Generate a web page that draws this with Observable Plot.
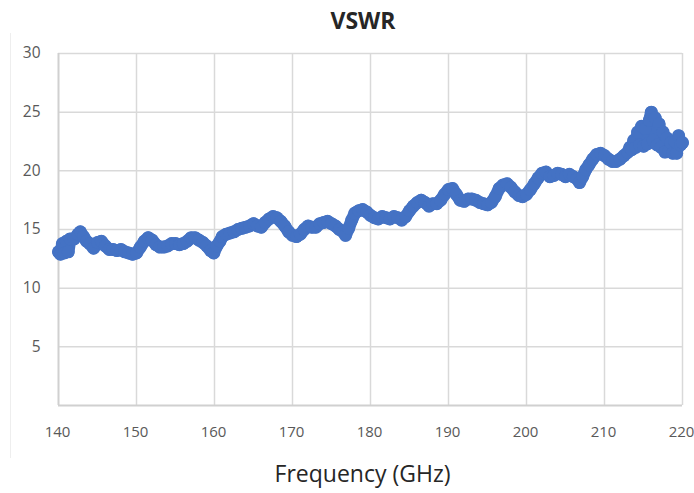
<!DOCTYPE html>
<html>
<head>
<meta charset="utf-8">
<script src="https://cdn.jsdelivr.net/npm/d3@7"></script>
<script src="https://cdn.jsdelivr.net/npm/@observablehq/plot@0.6"></script>
<style>
  body { margin: 0; background: #fff; font-family: "Open Sans", sans-serif; overflow: hidden; }
  #wrap { position: relative; width: 694px; height: 493px; }
  #title { position: absolute; top: 4px; left: 0; width: 726px; text-align: center;
           font: bold 23px "Open Sans", sans-serif; color: #262626; }
  #border { position: absolute; left: 10px; top: 33px; width: 0; height: 425px; border-left: 1px solid #eeeeee; }
  #chart { position: absolute; top: 40px; left: 0; }
  #chart svg { overflow: visible; }
</style>
</head>
<body>
<div id="wrap">
  <div id="title">VSWR</div>
  <div id="border"></div>
  <div id="chart"></div>
</div>
<script>
const freq = [140,140.25,140.5,140.75,141,141.25,141.5,142,142.5,142.8,143.2,143.6,144,144.5,145,145.5,146,146.5,147,147.5,148,148.5,149,149.5,150,150.5,151,151.5,152,152.5,153,153.5,154,154.5,155,155.5,156,156.5,157,157.5,158,158.5,159,159.5,159.9,160.3,160.7,161,161.5,162,162.5,163,163.5,164,164.5,165,165.5,166,166.5,167,167.5,168,168.5,169,169.5,170,170.5,171,171.5,172,172.5,173,173.5,174,174.5,175,175.5,176,176.5,176.8,177.2,177.6,178,178.5,179,179.5,180,180.5,181,181.5,182,182.5,183,183.5,184,184.5,185,185.5,186,186.5,187,187.5,188,188.5,189,189.5,190,190.5,191,191.5,192,192.5,193,193.5,194,194.5,195,195.5,196,196.5,197,197.5,198,198.5,199,199.5,200,200.5,201,201.5,202,202.5,203,203.5,204,204.5,205,205.5,206,206.5,206.8,207.2,207.6,208,208.5,209,209.5,210,210.5,211,211.5,212,212.5,213,213.25,213.5,213.75,214,214.25,214.5,214.75,215,215.25,215.5,215.75,216,216.25,216.5,216.75,217,217.25,217.5,217.75,218,218.25,218.5,218.75,219,219.25,219.5,219.75,220];
const vswr = [13.1,12.9,13.8,13.0,14.0,13.1,14.2,14.2,14.6,14.8,14.4,14.0,13.8,13.4,13.9,14.0,13.6,13.3,13.3,13.2,13.3,13.1,13.0,12.9,13.0,13.5,14.0,14.3,14.1,13.7,13.5,13.5,13.6,13.8,13.8,13.7,13.8,14.0,14.3,14.3,14.1,13.9,13.6,13.2,13.0,13.6,14.0,14.4,14.6,14.7,14.8,15.0,15.1,15.2,15.3,15.5,15.3,15.2,15.6,15.9,16.1,16.0,15.7,15.3,14.8,14.5,14.4,14.6,15.0,15.3,15.2,15.2,15.5,15.6,15.7,15.5,15.3,15.0,14.8,14.5,15.1,15.8,16.4,16.6,16.7,16.5,16.2,16.0,15.9,16.1,16.0,15.9,16.1,16.0,15.8,16.1,16.6,17.0,17.3,17.5,17.3,17.0,17.2,17.2,17.5,18.0,18.4,18.5,18.0,17.5,17.4,17.6,17.6,17.5,17.3,17.2,17.1,17.3,17.8,18.5,18.8,18.9,18.6,18.2,17.9,17.8,18.0,18.4,18.9,19.4,19.8,19.9,19.5,19.6,19.8,19.7,19.5,19.7,19.5,19.3,19.0,19.5,20.1,20.5,21.0,21.4,21.5,21.3,21.0,20.8,20.8,21.0,21.3,21.6,22.0,21.8,22.6,22.0,23.3,22.2,23.8,22.1,23.6,22.3,24.3,25.0,22.6,24.5,22.2,24.0,22.0,23.3,21.6,22.8,21.7,22.4,21.5,22.5,21.5,23.0,22.2,22.4];
const xTicks = [140,150,160,170,180,190,200,210,220];
const yTicks = [5,10,15,20,25,30];
const xLabel = "Frequency (GHz)";

const data = freq.map((f, i) => ({f, v: vswr[i]}));
const blue = "#4472C4";

const plot = Plot.plot({
  width: 694,
  height: 453,
  marginLeft: 58,
  marginRight: 12,
  marginTop: 13,
  marginBottom: 88,
  style: {fontFamily: "Open Sans, sans-serif", background: "transparent", overflow: "visible"},
  x: {domain: [140, 220], ticks: xTicks},
  y: {domain: [0, 30], ticks: yTicks},
  marks: [
    Plot.gridX(xTicks.slice(1), {stroke: "#d9d9d9", strokeOpacity: 1, strokeWidth: 1.5}),
    Plot.gridY(yTicks, {stroke: "#d9d9d9", strokeOpacity: 1, strokeWidth: 1.5}),
    Plot.ruleX([140], {stroke: "#d0d0d0", strokeWidth: 2}),
    Plot.ruleY([0], {stroke: "#d0d0d0", strokeWidth: 2}),
    Plot.axisX(xTicks, {tickSize: 0, tickPadding: 21, fontSize: 15, dx: -1, color: "#595959", label: null}),
    Plot.axisY(yTicks, {tickSize: 0, tickPadding: 18, fontSize: 15.5, color: "#595959", label: null}),
    Plot.line(data, {x: "f", y: "v", stroke: blue, strokeWidth: 12.5, strokeLinejoin: "round", strokeLinecap: "round"}),
    Plot.dot(data, {x: "f", y: "v", r: 6.5, fill: blue, stroke: "none"}),
    Plot.text([xLabel], {frameAnchor: "bottom", dy: 76, dx: -8, fontSize: 23, fill: "#262626", text: d => d})
  ]
});
document.getElementById("chart").appendChild(plot);
</script>
</body>
</html>
